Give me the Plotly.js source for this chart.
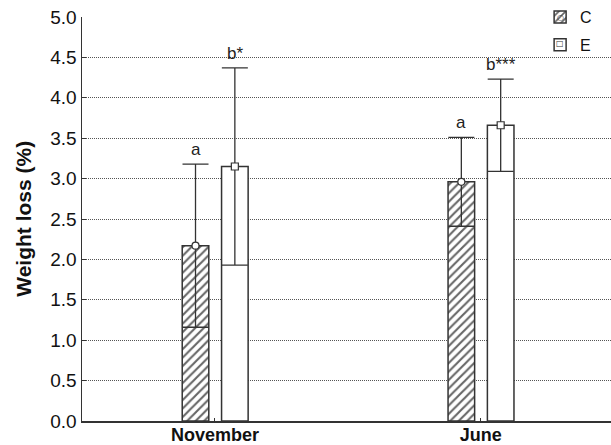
<!DOCTYPE html>
<html>
<head>
<meta charset="utf-8">
<script src="https://cdn.plot.ly/plotly-3.0.1.min.js"></script>
<style>html,body{margin:0;padding:0;background:#fff;}#chart{width:611px;height:445px;}</style>
</head>
<body>
<div id="chart"></div>
<script>
// Data
const categories = ['November', 'June'];
const seriesNames = ['C', 'E'];
const meanC = [2.17, 2.96];
const sdC = [1.01, 0.55];
const meanE = [3.15, 3.66];
const sdE = [1.22, 0.57];
const labelsC = ['a', 'a'];
const labelsE = ['b*', 'b***'];
const yTicks = [0, 0.5, 1, 1.5, 2, 2.5, 3, 3.5, 4, 4.5, 5];

// Layout settings
const idx = categories.map((c, i) => i);
const barW = 0.1;
const offC = -0.123, offE = 0.025;
const cxC = idx.map(i => i + offC + barW / 2);
const cxE = idx.map(i => i + offE + barW / 2);
const FONT = '"Liberation Sans", Arial, Helvetica, sans-serif';
const DARK = '#333333';

const errStyle = {type: 'data', visible: true, thickness: 1.3, width: 13, color: DARK};

const traces = [
  {
    type: 'bar', name: seriesNames[0], x: idx, y: meanC, width: barW, offset: offC,
    marker: {color: '#ffffff', line: {color: DARK, width: 1.5},
             pattern: {shape: '/', fgcolor: '#666666', bgcolor: '#ffffff', size: 6, solidity: 0.35}},
    error_y: Object.assign({array: sdC}, errStyle),
    legendgroup: 'c', hoverinfo: 'skip'
  },
  {
    type: 'bar', name: seriesNames[1], x: idx, y: meanE, width: barW, offset: offE,
    marker: {color: '#ffffff', line: {color: DARK, width: 1.5}},
    error_y: Object.assign({array: sdE}, errStyle),
    legendgroup: 'e', hoverinfo: 'skip'
  },
  {
    type: 'scatter', mode: 'markers', x: cxC, y: meanC, showlegend: false, cliponaxis: false,
    marker: {symbol: 'circle', size: 7, color: '#ffffff', line: {color: DARK, width: 1.2}}
  },
  {
    type: 'scatter', mode: 'markers', x: cxE, y: meanE, showlegend: false, cliponaxis: false,
    marker: {symbol: 'square', size: 7, color: '#ffffff', line: {color: DARK, width: 1.2}}
  }
];

const annotations = [];
idx.forEach(i => {
  annotations.push({x: cxC[i], y: meanC[i] + sdC[i], xref: 'x', yref: 'y', text: labelsC[i],
    showarrow: false, yanchor: 'bottom', yshift: 3, font: {family: FONT, size: 17, color: '#222'}});
  annotations.push({x: cxE[i], y: meanE[i] + sdE[i], xref: 'x', yref: 'y', text: labelsE[i],
    showarrow: false, yanchor: 'bottom', yshift: 3, font: {family: FONT, size: 17, color: '#222'}});
});
annotations.push({x: -0.112, y: 0.5, xref: 'paper', yref: 'paper', text: '<b>Weight loss (%)</b>',
  textangle: -90, showarrow: false, xanchor: 'center', yanchor: 'middle',
  font: {family: FONT, size: 21, color: '#111'}});
// small marker glyphs inside the legend swatches
annotations.push({x: 0.9036, y: 1.0, xref: 'paper', yref: 'paper', text: '○', showarrow: false,
  xanchor: 'center', yanchor: 'middle', font: {family: 'DejaVu Sans', size: 8, color: DARK}, bgcolor: 'rgba(0,0,0,0)'});
annotations.push({x: 0.9036, y: 0.9356, xref: 'paper', yref: 'paper', text: '□', showarrow: false,
  xanchor: 'center', yanchor: 'middle', font: {family: 'DejaVu Sans', size: 8, color: DARK}, bgcolor: 'rgba(0,0,0,0)'});

const layout = {
  width: 611, height: 445,
  margin: {l: 82, r: 0, t: 17, b: 24, pad: 0},
  paper_bgcolor: '#ffffff', plot_bgcolor: '#ffffff',
  font: {family: FONT, color: '#111'},
  showlegend: true,
  legend: {x: 0.866, y: 1.042, xanchor: 'left', yanchor: 'top', bgcolor: 'rgba(0,0,0,0)',
           font: {family: FONT, size: 16, color: '#111'}, traceorder: 'grouped', tracegroupgap: 4},
  xaxis: {
    range: [-0.5, 1.49], tickvals: idx, ticktext: categories.map(c => '<b>' + c + '</b>'),
    showgrid: false, zeroline: false, showline: true, linecolor: DARK, linewidth: 1.5,
    ticks: 'inside', ticklen: 3, tickcolor: DARK, tickfont: {family: FONT, size: 18, color: '#111'},
    ticklabelstandoff: -3,
    fixedrange: true
  },
  yaxis: {
    range: [0, 5], tickvals: yTicks, ticktext: yTicks.map(v => v.toFixed(1)),
    showgrid: true, gridcolor: '#555555', griddash: '1px,1px', gridwidth: 1,
    zeroline: false, showline: true, linecolor: DARK, linewidth: 1.5,
    ticks: 'inside', ticklen: 4, tickcolor: DARK, tickfont: {family: FONT, size: 19, color: '#111'},
    fixedrange: true
  },
  annotations: annotations,
  bargap: 0
};

Plotly.newPlot('chart', traces, layout, {displayModeBar: false, staticPlot: true});
</script>
</body>
</html>
